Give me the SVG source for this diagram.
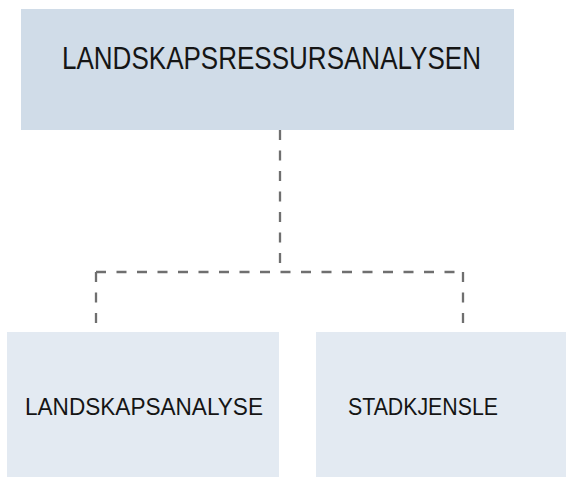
<svg xmlns="http://www.w3.org/2000/svg" width="566" height="477" viewBox="0 0 566 477">
<style>
.top{fill:#d0dce8}
.sub{fill:#e3eaf2}
.t{font-family:"Liberation Sans",Arial,sans-serif;fill:#151515;font-weight:normal}
.c{fill:none;stroke:#6f6f6f;stroke-width:2.3;stroke-dasharray:10 10.5}
</style>
<rect width="566" height="477" fill="#ffffff"/>
<g id="connectors">
<path class="c" d="M280,130 V272"/>
<path class="c" d="M96,272 H463"/>
<path class="c" d="M96,272 V332"/>
<path class="c" d="M463,272 V332"/>
</g>
<g id="node-root">
<rect class="top" x="21" y="9" width="493" height="121"/>
<text class="t" transform="translate(62,69) scale(0.84,1)" x="0" y="0" font-size="31">LANDSKAPSRESSURSANALYSEN</text>
</g>
<g id="node-landskapsanalyse">
<rect class="sub" x="7" y="332" width="272" height="145"/>
<text class="t" x="25" y="415" font-size="24.5" textLength="238" lengthAdjust="spacingAndGlyphs">LANDSKAPSANALYSE</text>
</g>
<g id="node-stadkjensle">
<rect class="sub" x="316" y="332" width="250" height="145"/>
<text class="t" x="348" y="415" font-size="24.5" textLength="150" lengthAdjust="spacingAndGlyphs">STADKJENSLE</text>
</g>
</svg>
